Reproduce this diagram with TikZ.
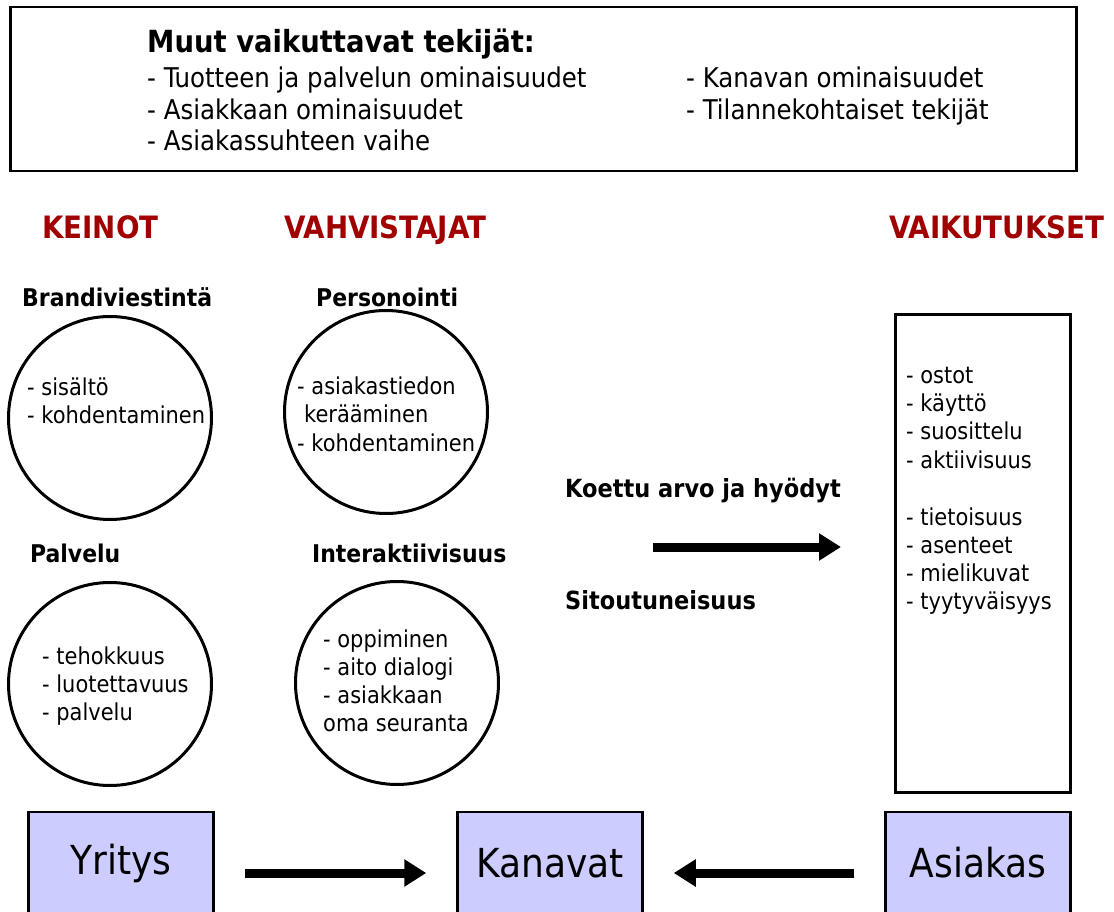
\documentclass[tikz,border=0pt]{standalone}
\usepackage{fontspec}
\setmainfont{DejaVuSansCondensed}[Extension=.ttf, BoldFont=DejaVuSansCondensed-Bold]
\usetikzlibrary{arrows.meta}
\definecolor{hdred}{RGB}{160,0,0}
\definecolor{lav}{RGB}{204,204,255}
\tikzset{
  fsz/.style={font=\fontsize{#1}{#1}\selectfont},
  txt/.style={inner sep=0pt, anchor=base west},
  item/.style={txt, fsz=23.3},
  topitem/.style={txt, fsz=27.2},
  head/.style={txt, font=\fontsize{24.4}{24.4}\selectfont\bfseries},
  midhead/.style={txt, font=\fontsize{25}{25}\selectfont\bfseries},
  redhead/.style={txt, text=hdred, font=\fontsize{30.8}{30.8}\selectfont\bfseries},
  ring/.style={draw, circle, line width=3pt, minimum size=203pt, inner sep=0pt},
  party/.style={draw, fill=lav, line width=2.5pt, minimum width=185pt, minimum height=122pt, inner sep=0pt},
  bigtxt/.style={inner sep=0pt, font=\fontsize{40}{40}\selectfont},
  fat/.style={line width=9pt, -{Triangle[length=22pt, width=26pt]}},
}
\begin{document}
\begin{tikzpicture}[x=1pt, y=-1pt]
\useasboundingbox (0,0) rectangle (1114,912);
% top box
\node[draw, line width=2.5pt, minimum width=1066pt, minimum height=164pt, anchor=north west, inner sep=0pt] (topbox) at (9,6) {};
\node[txt, font=\fontsize{30.5}{30.5}\selectfont\bfseries] (title) at (147,53) {Muut vaikuttavat tekijät:};
\node[topitem] (t1) at (147,88) {- Tuotteen ja palvelun ominaisuudet};
\node[topitem] (t2) at (147,120) {- Asiakkaan ominaisuudet};
\node[topitem] (t3) at (147,151) {- Asiakassuhteen vaihe};
\node[topitem] (t4) at (686,88) {- Kanavan ominaisuudet};
\node[topitem] (t5) at (686,120) {- Tilannekohtaiset tekijät};
% column headers
\node[redhead] (keinot) at (42,239) {KEINOT};
\node[redhead] (vahv) at (284,239) {VAHVISTAJAT};
\node[redhead] (vaik) at (889,239) {VAIKUTUKSET};
% circle headers
\node[head] (h1) at (22,306) {Brandiviestintä};
\node[head] (h2) at (316,306) {Personointi};
\node[head] (h3) at (30,562) {Palvelu};
\node[head] (h4) at (312,562) {Interaktiivisuus};
% circles
\node[ring] (c1) at (110,418) {};
\node[ring] (c2) at (386,412) {};
\node[ring] (c3) at (110,684) {};
\node[ring] (c4) at (397,683) {};
% circle texts
\node[item] (c1a) at (27,395) {- sisältö};
\node[item] (c1b) at (27,423) {- kohdentaminen};
\node[item] (c2a) at (297,394) {- asiakastiedon};
\node[item] (c2b) at (304,422) {kerääminen};
\node[item] (c2c) at (297,451) {- kohdentaminen};
\node[item] (c3a) at (42,664) {- tehokkuus};
\node[item] (c3b) at (42,692) {- luotettavuus};
\node[item] (c3c) at (42,720) {- palvelu};
\node[item] (c4a) at (323,647) {- oppiminen};
\node[item] (c4b) at (323,675) {- aito dialogi};
\node[item] (c4c) at (323,703) {- asiakkaan};
\node[item] (c4d) at (323,731) {oma seuranta};
% middle labels
\node[midhead] (koettu) at (565,497) {Koettu arvo ja hyödyt};
\node[midhead] (sitout) at (565,609) {Sitoutuneisuus};
% effects box
\node[draw, line width=3pt, minimum width=175pt, minimum height=478pt, anchor=north west, inner sep=0pt] (vbox) at (894,313) {};
\node[item] (v1) at (906,383) {- ostot};
\node[item] (v2) at (906,411) {- käyttö};
\node[item] (v3) at (906,439) {- suosittelu};
\node[item] (v4) at (906,468) {- aktiivisuus};
\node[item] (v5) at (906,525) {- tietoisuus};
\node[item] (v6) at (906,553) {- asenteet};
\node[item] (v7) at (906,581) {- mielikuvat};
\node[item] (v8) at (906,609) {- tyytyväisyys};
% middle arrow
\coordinate (mstart) at (653,547);
\draw[fat, shorten >=53pt] (mstart) -- (mstart -| vbox.west);
% bottom boxes
\node[party] (yritys) at (121,873) {};
\node[party] (kanavat) at (550,873) {};
\node[party] (asiakas) at (978,873) {};
\node[bigtxt] (yl) at ([yshift=10pt]yritys.center) {Yritys};
\node[bigtxt] (kl) at ([yshift=10pt]kanavat.center) {Kanavat};
\node[bigtxt] (al) at ([yshift=10pt]asiakas.center) {Asiakas};
\draw[fat, shorten <=30pt, shorten >=30pt] (yritys.east) -- (kanavat.west);
\draw[fat, shorten <=30pt, shorten >=30pt] (asiakas.west) -- (kanavat.east);
\end{tikzpicture}
\end{document}
